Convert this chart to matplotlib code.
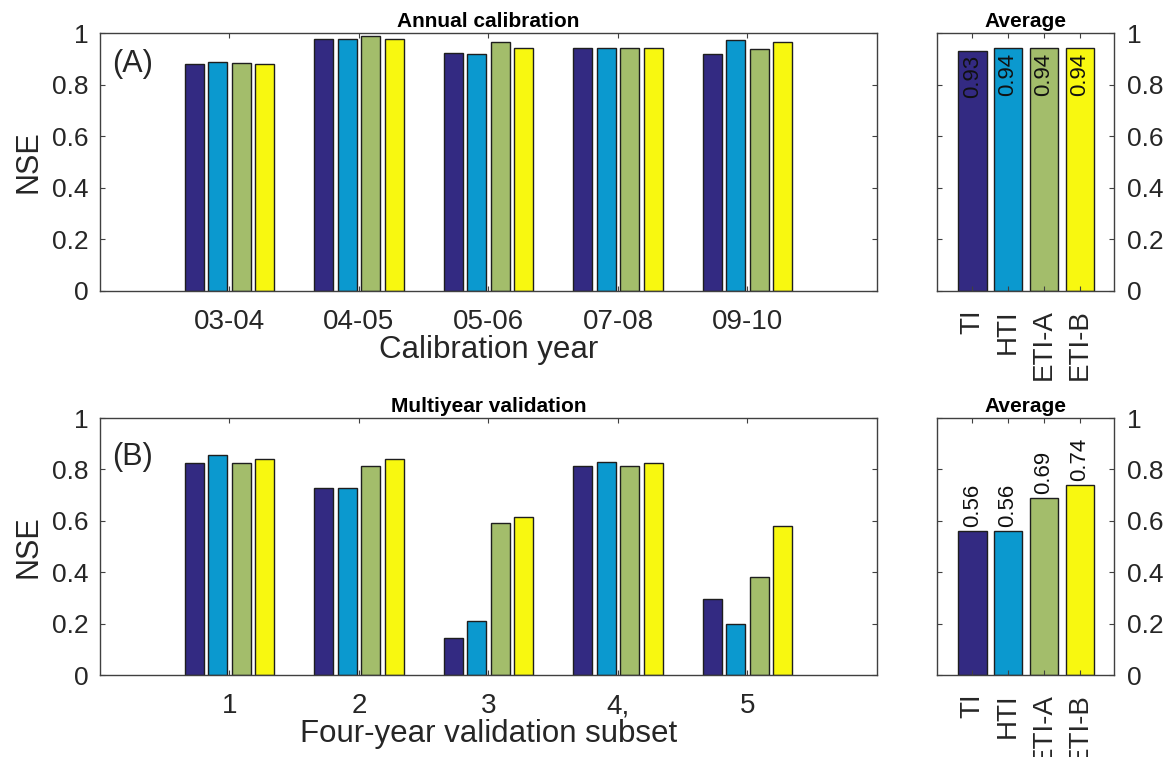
import numpy as np
import matplotlib
matplotlib.use('Agg')
import matplotlib.pyplot as plt

plt.rcParams['font.family'] = ['Liberation Sans', 'DejaVu Sans']

# Models and their bar colours
models = ['TI', 'HTI', 'ETI-A', 'ETI-B']
model_colors = ['#332a82', '#0b99cf', '#a3bd6b', '#f8f810']

# (A) annual calibration NSE per calibration year
cal_years = ['03-04', '04-05', '05-06', '07-08', '09-10']
cal_TI = [0.879, 0.978, 0.923, 0.941, 0.919]
cal_HTI = [0.889, 0.978, 0.919, 0.941, 0.974]
cal_ETI_A = [0.883, 0.987, 0.965, 0.941, 0.938]
cal_ETI_B = [0.880, 0.978, 0.940, 0.941, 0.966]
cal_avg = [0.93, 0.94, 0.94, 0.94]

# (B) multiyear validation NSE per four-year subset
val_subsets = ['1', '2', '3', '4,', '5']
val_TI = [0.826, 0.727, 0.144, 0.815, 0.296]
val_HTI = [0.857, 0.727, 0.212, 0.830, 0.198]
val_ETI_A = [0.826, 0.814, 0.590, 0.815, 0.381]
val_ETI_B = [0.840, 0.840, 0.616, 0.826, 0.581]
val_avg = [0.56, 0.56, 0.69, 0.74]

EDGE = '#1e1e1e'
FRAME = '#404040'
TEXT = '#262626'
yticks = [0, 0.2, 0.4, 0.6, 0.8, 1]
ytick_labels = ['0', '0.2', '0.4', '0.6', '0.8', '1']


def style_axes(ax):
    for sp in ax.spines.values():
        sp.set_color(FRAME)
        sp.set_linewidth(1.0)
    ax.tick_params(direction='in', top=True, right=True, length=3.6,
                   width=0.8, color=FRAME, labelcolor=TEXT)
    ax.tick_params(axis='y', labelsize=19)
    ax.tick_params(axis='x', labelsize=20)
    ax.set_ylim(0, 1)
    ax.set_yticks(yticks)


def grouped_bars(ax, groups, series, title, xlabel, letter, letter_y):
    n = len(series)
    group_w = min(0.8, n / (n + 1.5))
    step = group_w / n
    x = np.arange(1, len(groups) + 1)
    for i, (vals, c) in enumerate(zip(series, model_colors)):
        ax.bar(x + (i - (n - 1) / 2) * step, vals, width=step * 0.8,
               color=c, edgecolor=EDGE, linewidth=1.0)
    style_axes(ax)
    ax.set_xlim(0, len(groups) + 1)
    ax.set_xticks(x)
    ax.set_xticklabels(groups)
    ax.set_yticklabels(ytick_labels)
    ax.tick_params(axis='x', pad=13)
    ax.tick_params(axis='y', pad=8)
    ax.set_xlabel(xlabel, fontsize=22.5, labelpad=0, color=TEXT)
    ax.set_ylabel('NSE', fontsize=22, labelpad=6, color=TEXT)
    ax.set_title(title, fontsize=15, fontweight='bold', pad=4)
    ax.text(0.016, letter_y, letter, transform=ax.transAxes, fontsize=22,
            ha='left', va='center', color=TEXT)


def average_bars(ax, values, inside):
    x = np.arange(1, len(values) + 1)
    ax.bar(x, values, width=0.8, color=model_colors, edgecolor=EDGE, linewidth=1.0)
    for xi, v in zip(x, values):
        if inside:
            ax.annotate(f'{v:.2f}', (xi, v), xytext=(0, -3), textcoords='offset points',
                        rotation=90, ha='center', va='top', fontsize=16, color='#111111')
        else:
            ax.annotate(f'{v:.2f}', (xi, v), xytext=(0, 3), textcoords='offset points',
                        rotation=90, ha='center', va='bottom', fontsize=16, color='#111111')
    style_axes(ax)
    ax.set_xlim(0.02, len(values) + 0.95)
    ax.set_xticks(x)
    ax.set_xticklabels(models, rotation=90)
    ax.set_yticklabels(ytick_labels)
    ax.tick_params(axis='x', pad=13)
    ax.tick_params(axis='y', labelleft=False, labelright=True, pad=9)
    ax.set_title('Average', fontsize=15, fontweight='bold', pad=4)


fig = plt.figure(figsize=(11.76, 7.57), dpi=100)

ax_cal = fig.add_axes([0.0850, 0.6156, 0.6607, 0.3408])
ax_cal_avg = fig.add_axes([0.7968, 0.6156, 0.1505, 0.3408])
ax_val = fig.add_axes([0.0850, 0.1083, 0.6607, 0.3395])
ax_val_avg = fig.add_axes([0.7968, 0.1083, 0.1505, 0.3395])

grouped_bars(ax_cal, cal_years, [cal_TI, cal_HTI, cal_ETI_A, cal_ETI_B],
             'Annual calibration', 'Calibration year', '(A)', 0.88)
average_bars(ax_cal_avg, cal_avg, inside=True)

grouped_bars(ax_val, val_subsets, [val_TI, val_HTI, val_ETI_A, val_ETI_B],
             'Multiyear validation', 'Four-year validation subset', '(B)', 0.85)
average_bars(ax_val_avg, val_avg, inside=False)

plt.savefig('out.png', dpi=100)
plt.close()
